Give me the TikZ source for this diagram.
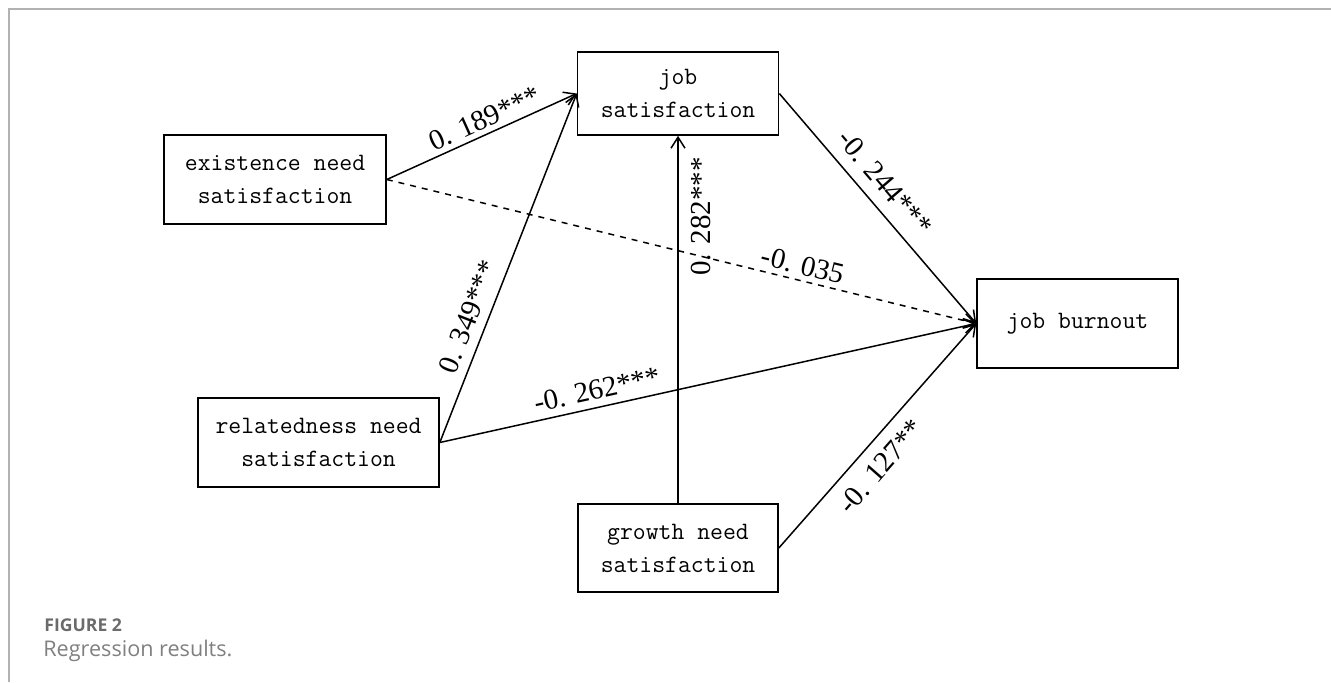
\documentclass[tikz,border=0pt]{standalone}
\usepackage{fontspec}
\newfontfamily\capfont{Open Sans}
\newfontfamily\coeffont{Liberation Serif}
\usetikzlibrary{arrows.meta}

\begin{document}
\begin{tikzpicture}[x=0.5pt,y=-0.5pt,
    box/.style={draw,line width=0.8pt,inner sep=0pt,align=center,
      font=\fontsize{12.5}{16.5}\selectfont\ttfamily},
    arr/.style={line width=0.75pt,-{Straight Barb[length=5.5pt,width=7pt]}},
    coef/.style={font=\coeffont\fontsize{14.5}{14.5}\selectfont,inner sep=2.5pt,sloped}]
      \useasboundingbox (0,0) rectangle (1331,682);
      \draw[line width=0.8pt,black!30] (9,682)--(9,9)--(1331,9);
      \node[box,minimum width=111pt,minimum height=44.5pt](exist) at (275,179.5) {existence need\\satisfaction};
      \node[box,minimum width=100.5pt,minimum height=41.5pt](jobsat) at (678,93.5) {job\\satisfaction};
      \node[box,minimum width=100.5pt,minimum height=44.5pt](burnout) at (1077.5,323.5) {job burnout};
      \node[box,minimum width=120.5pt,minimum height=44.5pt](relat) at (318.5,442.5) {relatedness need\\satisfaction};
      \node[box,minimum width=100pt,minimum height=44pt](growth) at (678,548) {growth need\\satisfaction};
      \draw[arr](exist.east)--node[coef,above,pos=0.55]{0. 189***}(jobsat.west);
      \draw[arr,dashed](exist.east)--node[coef,above,pos=0.7]{-0. 035}(burnout.west);
      \draw[arr](relat.east)--node[coef,above,pos=0.34,inner sep=4.5pt]{0. 349***}(jobsat.west);
      \draw[arr](relat.east)--node[coef,above,pos=0.3,inner sep=3.5pt]{-0. 262***}(burnout.west);
      \draw[arr](growth.north)--node[coef,below,pos=0.78,inner sep=6pt]{0. 282***}(jobsat.south);
      \draw[arr](growth.east)--node[coef,below,pos=0.43,inner sep=6pt]{-0. 127**}(burnout.west);
      \draw[arr](jobsat.east)--node[coef,above,pos=0.45,inner sep=6pt]{-0. 244***}(burnout.west);
      \node[anchor=base west,inner sep=0pt,text=black!58,font=\capfont\bfseries\fontsize{8.8}{8.8}\selectfont](fig) at (44,631) {FIGURE 2};
      \node[anchor=base west,inner sep=0pt,text=black!50,font=\capfont\fontsize{10.8}{10.8}\selectfont](cap) at (43,656) {Regression results.};
    \end{tikzpicture}
\end{document}
